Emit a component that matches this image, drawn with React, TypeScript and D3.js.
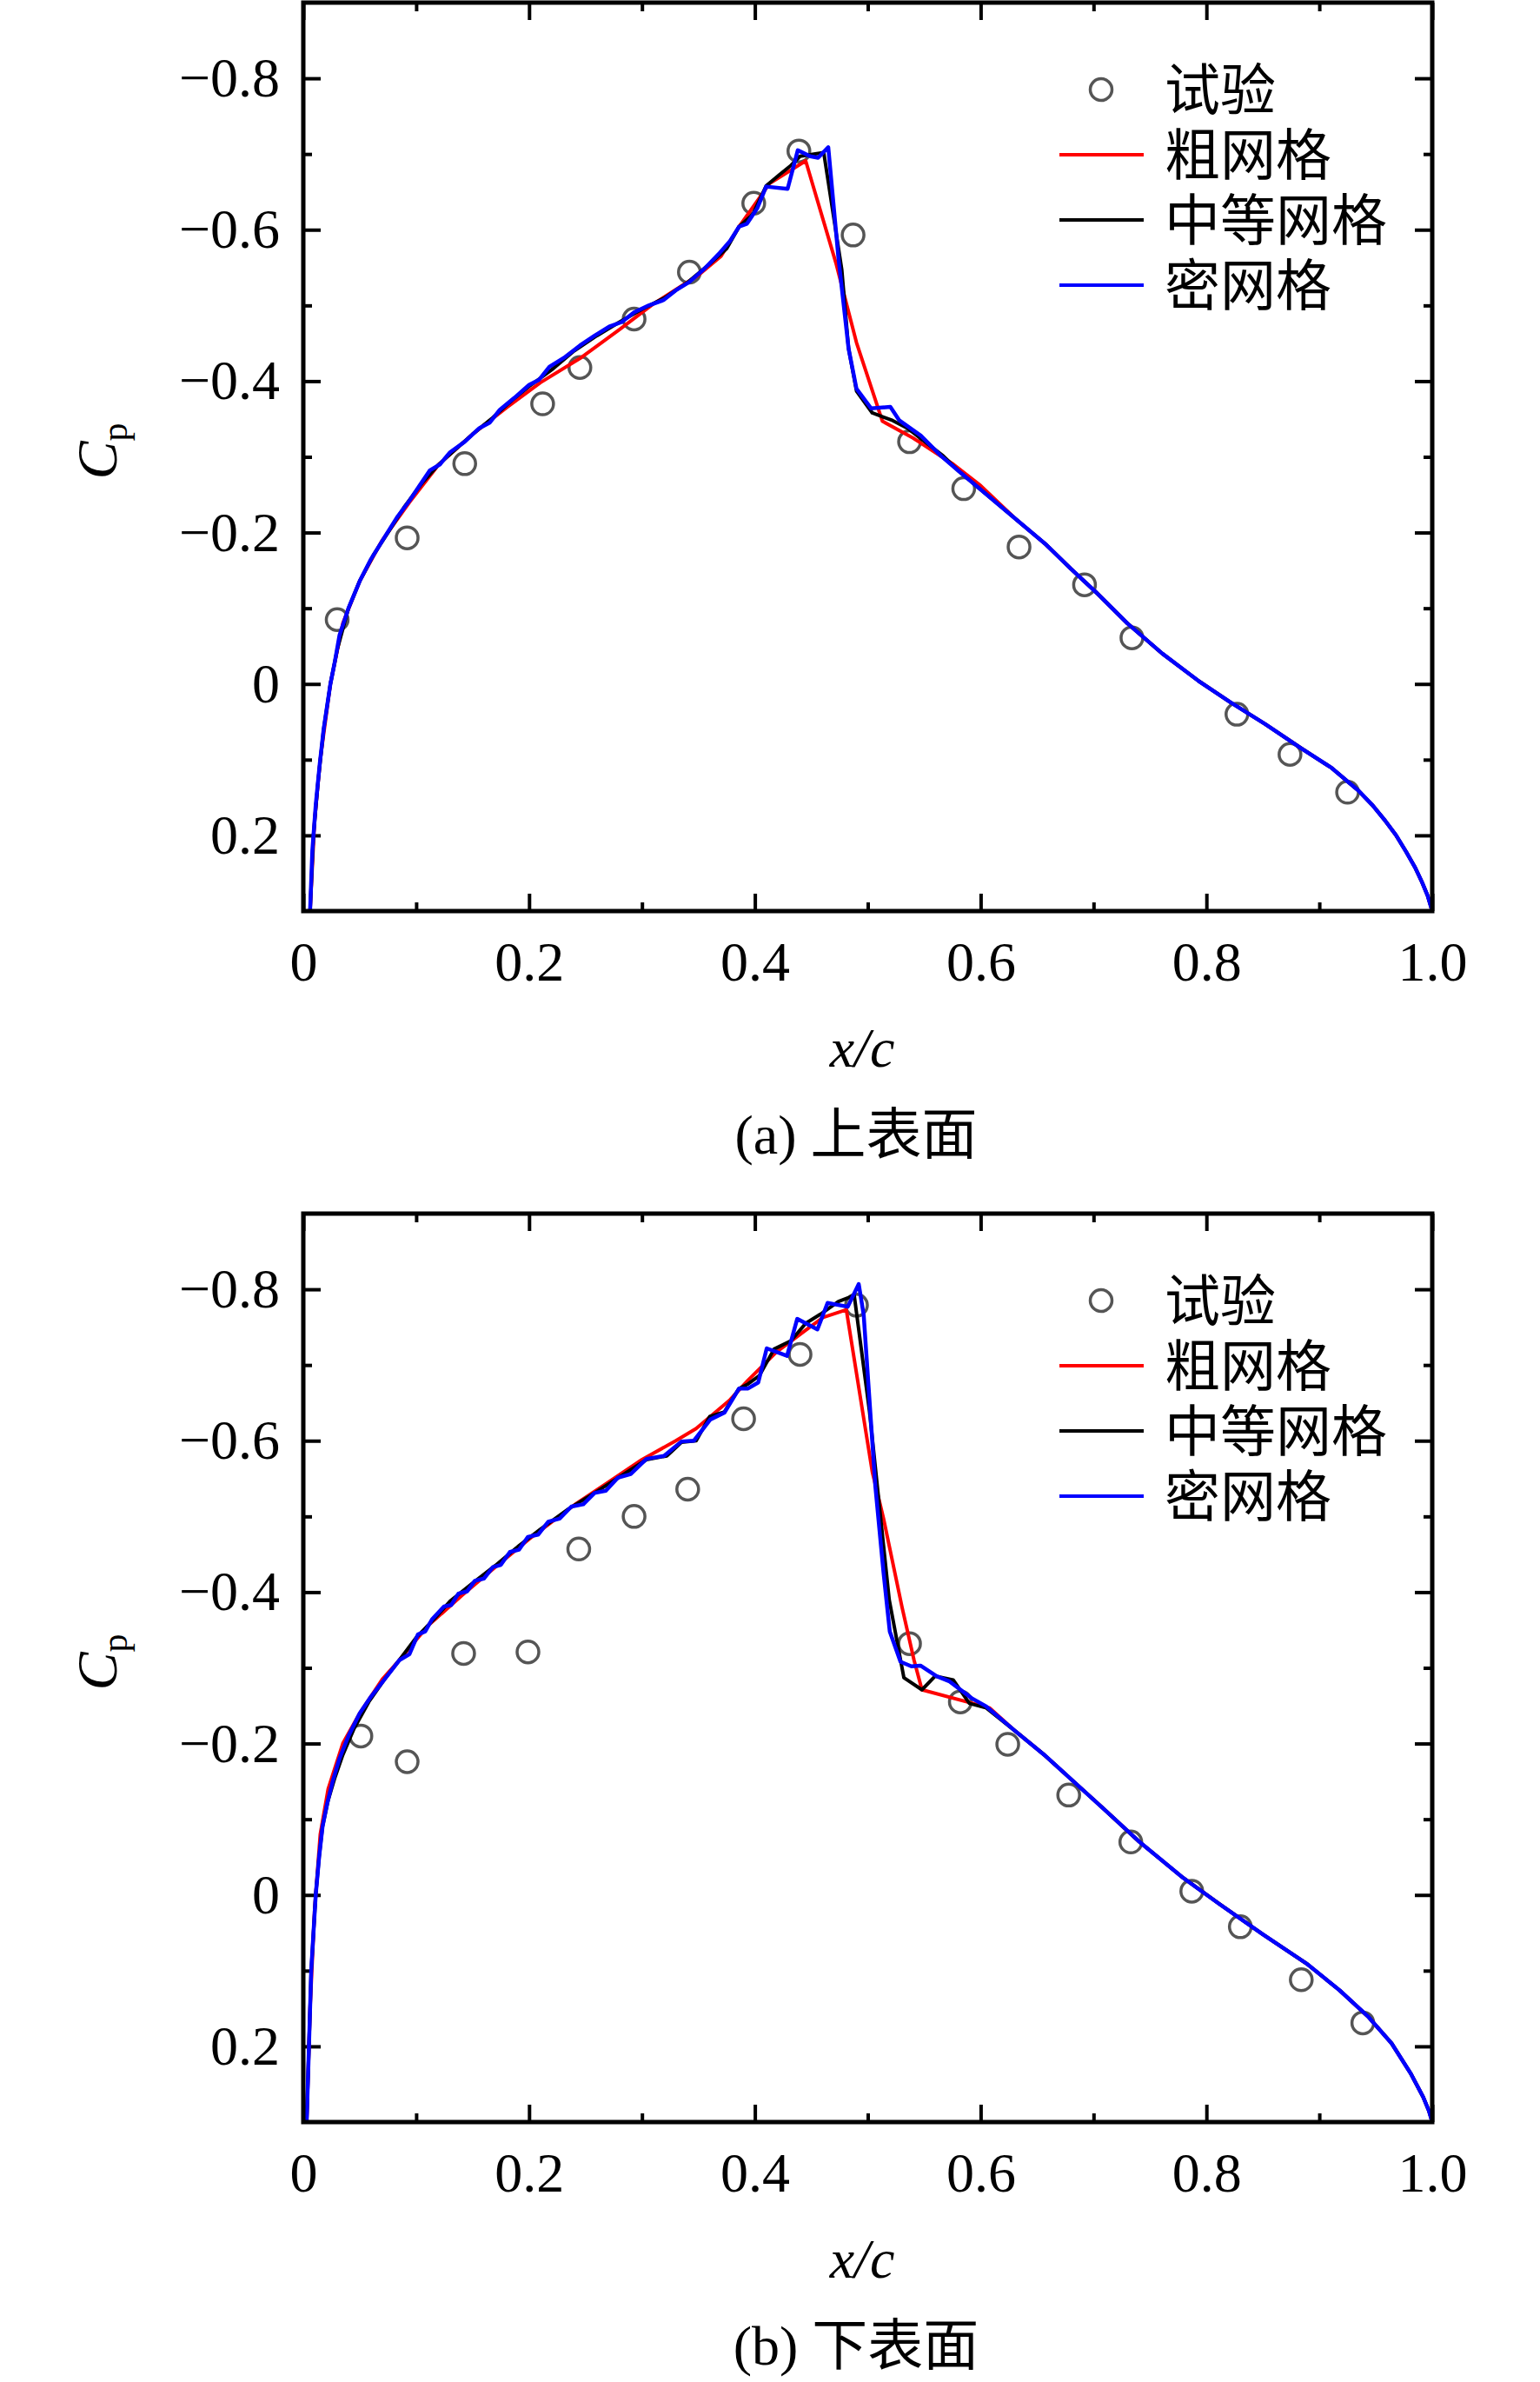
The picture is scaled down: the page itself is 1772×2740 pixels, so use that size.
import React, { useRef, useEffect } from "react";
import * as d3 from "d3";

type Pt = [number, number];

// ---- (a) upper surface ----
const upperTest: Pt[] = [
	[0.03, -0.085], [0.092, -0.193], [0.143, -0.291], [0.212, -0.37], [0.245, -0.418],
	[0.293, -0.482], [0.342, -0.544], [0.399, -0.635], [0.439, -0.704], [0.487, -0.593],
	[0.537, -0.32], [0.585, -0.258], [0.634, -0.181], [0.692, -0.131], [0.734, -0.061],
	[0.827, 0.04], [0.874, 0.093], [0.925, 0.143],
];

// all three grids coincide aft of x/c ~ 0.6
const upperTail: Pt[] = [
	[0.631, -0.218], [0.658, -0.184], [0.68, -0.152], [0.703, -0.12], [0.73, -0.08],
	[0.761, -0.04], [0.793, -0.004], [0.821, 0.024], [0.852, 0.053], [0.884, 0.085],
	[0.911, 0.111], [0.934, 0.14], [0.947, 0.16], [0.958, 0.18], [0.968, 0.2], [0.977, 0.222],
	[0.985, 0.243], [0.991, 0.262], [0.996, 0.28], [1.0, 0.3],
];

const upperCoarse: Pt[] = [
	[0.006, 0.3], [0.01, 0.18], [0.015, 0.1], [0.024, 0.0], [0.035, -0.08], [0.05, -0.136],
	[0.07, -0.19], [0.094, -0.24], [0.12, -0.29], [0.15, -0.33], [0.18, -0.365], [0.21, -0.398],
	[0.245, -0.43], [0.28, -0.468], [0.31, -0.502], [0.35, -0.54], [0.37, -0.565], [0.386, -0.604],
	[0.413, -0.661], [0.445, -0.691], [0.472, -0.555], [0.49, -0.451], [0.513, -0.347],
	[0.54, -0.325], [0.576, -0.29], [0.6, -0.262],
];

const upperMedium: Pt[] = [
	[0.006, 0.3], [0.009, 0.2], [0.013, 0.13], [0.018, 0.06], [0.024, 0.0], [0.03, -0.045],
	[0.04, -0.1], [0.05, -0.136], [0.062, -0.17], [0.075, -0.2], [0.09, -0.235], [0.105, -0.265],
	[0.12, -0.29], [0.135, -0.31], [0.15, -0.33], [0.168, -0.352], [0.185, -0.375], [0.2, -0.393],
	[0.22, -0.415], [0.24, -0.44], [0.26, -0.46], [0.28, -0.478], [0.3, -0.495], [0.32, -0.51],
	[0.34, -0.53], [0.36, -0.555], [0.375, -0.575], [0.386, -0.604], [0.398, -0.62], [0.41, -0.658],
	[0.422, -0.673], [0.432, -0.685], [0.44, -0.697], [0.461, -0.702], [0.477, -0.547],
	[0.483, -0.443], [0.49, -0.387], [0.504, -0.358], [0.522, -0.348], [0.535, -0.338],
	[0.567, -0.301], [0.58, -0.282], [0.599, -0.258],
];

const upperFine: Pt[] = [
	[0.006, 0.3], [0.008, 0.22], [0.011, 0.16], [0.0146, 0.105], [0.018, 0.06], [0.021, 0.03],
	[0.024, 0.0], [0.028, -0.03], [0.032, -0.064], [0.04, -0.1], [0.05, -0.136], [0.06, -0.165],
	[0.072, -0.194], [0.083, -0.22], [0.094, -0.242], [0.103, -0.262], [0.112, -0.282],
	[0.121, -0.29], [0.13, -0.306], [0.143, -0.32], [0.156, -0.338], [0.165, -0.345],
	[0.174, -0.362], [0.187, -0.378], [0.2, -0.395], [0.209, -0.402], [0.218, -0.419],
	[0.232, -0.432], [0.245, -0.447], [0.258, -0.46], [0.271, -0.472], [0.282, -0.478],
	[0.293, -0.491], [0.306, -0.5], [0.319, -0.507], [0.33, -0.52], [0.342, -0.531],
	[0.355, -0.548], [0.368, -0.568], [0.378, -0.585], [0.386, -0.604], [0.393, -0.608],
	[0.402, -0.628], [0.41, -0.657], [0.429, -0.654], [0.438, -0.705], [0.449, -0.697],
	[0.456, -0.695], [0.465, -0.709], [0.474, -0.563], [0.483, -0.443], [0.49, -0.39],
	[0.503, -0.364], [0.52, -0.366], [0.528, -0.348], [0.547, -0.328], [0.565, -0.301],
	[0.58, -0.282], [0.599, -0.258],
];

// ---- (b) lower surface ----
const lowerTest: Pt[] = [
	[0.051, -0.21], [0.092, -0.176], [0.142, -0.319], [0.199, -0.321], [0.244, -0.457],
	[0.293, -0.5], [0.3405, -0.536], [0.39, -0.629], [0.44, -0.714], [0.49, -0.779],
	[0.537, -0.332], [0.582, -0.255], [0.624, -0.199], [0.678, -0.132], [0.733, -0.07],
	[0.787, -0.005], [0.83, 0.042], [0.884, 0.112], [0.9385, 0.169],
];

const lowerTail: Pt[] = [
	[0.631, -0.216], [0.6564, -0.185], [0.6822, -0.15], [0.708, -0.115], [0.74, -0.071],
	[0.779, -0.023], [0.8115, 0.012], [0.85, 0.052], [0.889, 0.091], [0.918, 0.126],
	[0.9434, 0.161], [0.964, 0.196], [0.981, 0.236], [0.992, 0.267], [0.997, 0.285], [1.0, 0.3],
];

const lowerCoarse: Pt[] = [
	[0.003, 0.3], [0.006, 0.15], [0.01, 0.02], [0.015, -0.08], [0.022, -0.14], [0.035, -0.2],
	[0.05, -0.24], [0.07, -0.285], [0.085, -0.31], [0.11, -0.355], [0.14, -0.395], [0.17, -0.433],
	[0.2, -0.47], [0.24, -0.515], [0.27, -0.545], [0.3, -0.575], [0.33, -0.6], [0.348, -0.616],
	[0.378, -0.654], [0.394, -0.68], [0.419, -0.717], [0.445, -0.746], [0.4605, -0.763],
	[0.481, -0.773], [0.504, -0.559], [0.514, -0.497], [0.5305, -0.379], [0.541, -0.31],
	[0.548, -0.271], [0.608, -0.247],
];

const lowerMedium: Pt[] = [
	[0.003, 0.3], [0.005, 0.2], [0.007, 0.1], [0.009, 0.05], [0.011, 0.0], [0.014, -0.05],
	[0.017, -0.09], [0.022, -0.125], [0.028, -0.155], [0.035, -0.185], [0.045, -0.22],
	[0.058, -0.255], [0.072, -0.285], [0.085, -0.31], [0.1, -0.34], [0.115, -0.363],
	[0.13, -0.388], [0.15, -0.412], [0.17, -0.435], [0.19, -0.46], [0.21, -0.483], [0.235, -0.51],
	[0.26, -0.533], [0.28, -0.552], [0.304, -0.575], [0.322, -0.58], [0.335, -0.598],
	[0.348, -0.6], [0.36, -0.632], [0.373, -0.638], [0.386, -0.669], [0.394, -0.675],
	[0.404, -0.686], [0.417, -0.721], [0.432, -0.732], [0.445, -0.755], [0.458, -0.767],
	[0.474, -0.784], [0.488, -0.792], [0.5015, -0.639], [0.519, -0.39], [0.532, -0.287],
	[0.548, -0.271], [0.5596, -0.289], [0.5757, -0.284], [0.59, -0.253], [0.605, -0.247],
];

const lowerFine: Pt[] = [
	[0.003, 0.3], [0.005, 0.2], [0.007, 0.1], [0.009, 0.05], [0.011, 0.0], [0.014, -0.05],
	[0.017, -0.09], [0.021, -0.12], [0.026, -0.15], [0.032, -0.18], [0.04, -0.21], [0.05, -0.24],
	[0.06, -0.262], [0.072, -0.285], [0.085, -0.31], [0.094, -0.318], [0.1015, -0.344],
	[0.108, -0.348], [0.114, -0.364], [0.1246, -0.381], [0.131, -0.383], [0.1374, -0.398],
	[0.145, -0.401], [0.152, -0.415], [0.16, -0.418], [0.168, -0.433], [0.175, -0.436],
	[0.183, -0.453], [0.191, -0.456], [0.199, -0.473], [0.208, -0.476], [0.217, -0.493],
	[0.227, -0.497], [0.2375, -0.513], [0.248, -0.516], [0.258, -0.531], [0.268, -0.534],
	[0.2785, -0.551], [0.29, -0.556], [0.304, -0.576], [0.3195, -0.58], [0.335, -0.599],
	[0.346, -0.6], [0.3605, -0.628], [0.373, -0.637], [0.386, -0.669], [0.394, -0.669],
	[0.403, -0.677], [0.4105, -0.722], [0.4285, -0.712], [0.4375, -0.761], [0.4554, -0.747],
	[0.4644, -0.782], [0.4823, -0.777], [0.492, -0.807], [0.4964, -0.766], [0.5067, -0.54],
	[0.514, -0.425], [0.5195, -0.348], [0.529, -0.308], [0.5386, -0.302], [0.5467, -0.303],
	[0.561, -0.289], [0.5725, -0.282], [0.592, -0.26], [0.605, -0.249],
];

const legendLabels = ["试验", "粗网格", "中等网格", "密网格"];
const seriesColors = ["#555555", "#ff0000", "#000000", "#0000ff"];
const xMajor = [0, 0.2, 0.4, 0.6, 0.8, 1.0];
const xMinor = [0.1, 0.3, 0.5, 0.7, 0.9];
const yMajor = [-0.8, -0.6, -0.4, -0.2, 0, 0.2];
const yMinor = [-0.7, -0.5, -0.3, -0.1, 0.1];

const W = 1772;
const H = 2740;
const LEFT = 349;
const RIGHT = 1648;
const PANEL_H = 1045;
const SERIF = "'Liberation Serif', 'Times New Roman', 'Noto Sans CJK SC', serif";
const CJK = "'Noto Sans CJK SC', sans-serif";

const fmt = (v: number) => (Math.abs(v) < 1e-9 ? "0" : d3.format(".1f")(v));

function drawPanel(
	svg: d3.Selection<SVGSVGElement, unknown, null, undefined>,
	top: number,
	test: Pt[],
	coarse: Pt[],
	medium: Pt[],
	fine: Pt[],
	tag: string,
	caption: string,
	id: string
) {
	const bottom = top + PANEL_H;
	const x = d3.scaleLinear().domain([0, 1]).range([LEFT, RIGHT]);
	const y = d3.scaleLinear().domain([-0.9, 0.3]).range([top, bottom]);
	const g = svg.append("g");

	g.append("clipPath")
		.attr("id", id)
		.append("rect")
		.attr("x", LEFT)
		.attr("y", top)
		.attr("width", RIGHT - LEFT)
		.attr("height", PANEL_H);

	const styleAxis = (sel: d3.Selection<SVGGElement, unknown, null, undefined>) => {
		sel.select(".domain").remove();
		sel.selectAll("line").attr("stroke-width", 4);
		sel.selectAll("text").attr("font-size", 64).attr("font-family", SERIF).attr("fill", "#000");
	};

	// major + minor ticks, inward on all four sides
	const axes: [d3.Axis<d3.NumberValue>, string][] = [
		[d3.axisLeft(y).tickValues(yMajor).tickSize(-20).tickPadding(27).tickFormat((d) => fmt(+d)), `translate(${LEFT},0)`],
		[d3.axisLeft(y).tickValues(yMinor).tickSize(-10).tickFormat(() => ""), `translate(${LEFT},0)`],
		[d3.axisRight(y).tickValues(yMajor).tickSize(-20).tickFormat(() => ""), `translate(${RIGHT},0)`],
		[d3.axisRight(y).tickValues(yMinor).tickSize(-10).tickFormat(() => ""), `translate(${RIGHT},0)`],
		[d3.axisBottom(x).tickValues(xMajor).tickSize(-20).tickPadding(35).tickFormat((d) => fmt(+d)), `translate(0,${bottom})`],
		[d3.axisBottom(x).tickValues(xMinor).tickSize(-10).tickFormat(() => ""), `translate(0,${bottom})`],
		[d3.axisTop(x).tickValues(xMajor).tickSize(-20).tickFormat(() => ""), `translate(0,${top})`],
		[d3.axisTop(x).tickValues(xMinor).tickSize(-10).tickFormat(() => ""), `translate(0,${top})`],
	];
	axes.forEach(([ax, tr]) => {
		const a = g.append("g").attr("transform", tr).call(ax);
		styleAxis(a);
	});

	// experiment circles
	const plot = g.append("g").attr("clip-path", `url(#${id})`);
	plot.selectAll("circle")
		.data(test)
		.enter()
		.append("circle")
		.attr("cx", (d) => x(d[0]))
		.attr("cy", (d) => y(d[1]))
		.attr("r", 12.5)
		.attr("fill", "none")
		.attr("stroke", seriesColors[0])
		.attr("stroke-width", 3.5);

	const line = d3
		.line<Pt>()
		.x((d) => x(d[0]))
		.y((d) => y(d[1]));

	[coarse, medium, fine].forEach((s, i) => {
		plot.append("path")
			.attr("d", line(s))
			.attr("fill", "none")
			.attr("stroke", seriesColors[i + 1])
			.attr("stroke-width", i === 2 ? 4.5 : 4)
			.attr("stroke-linejoin", "round");
	});

	// frame
	g.append("rect")
		.attr("x", LEFT)
		.attr("y", top)
		.attr("width", RIGHT - LEFT)
		.attr("height", PANEL_H)
		.attr("fill", "none")
		.attr("stroke", "#000")
		.attr("stroke-width", 5);

	// legend
	const leg = g.append("g");
	legendLabels.forEach((lab, i) => {
		const ry = top + 100 + i * 75;
		if (i === 0) {
			leg.append("circle")
				.attr("cx", 1267)
				.attr("cy", ry)
				.attr("r", 12.5)
				.attr("fill", "none")
				.attr("stroke", seriesColors[0])
				.attr("stroke-width", 3.5);
		} else {
			leg.append("line")
				.attr("x1", 1219)
				.attr("x2", 1316)
				.attr("y1", ry)
				.attr("y2", ry)
				.attr("stroke", seriesColors[i])
				.attr("stroke-width", 4);
		}
		leg.append("text")
			.attr("x", 1340)
			.attr("y", ry + 23)
			.attr("font-family", CJK)
			.attr("font-size", 64)
			.text(lab);
	});

	// y label C_p
	const yl = g.append("text")
		.attr("transform", `translate(134,${top + 516}) rotate(-90)`)
		.attr("text-anchor", "middle")
		.attr("font-family", SERIF)
		.attr("font-size", 66);
	yl.append("tspan").attr("font-style", "italic").text("C");
	yl.append("tspan").attr("font-size", 42).attr("dy", 12).text("p");

	// x label
	g.append("text")
		.attr("x", 992)
		.attr("y", bottom + 179)
		.attr("text-anchor", "middle")
		.attr("font-family", SERIF)
		.attr("font-size", 64)
		.attr("font-style", "italic")
		.text("x/c");

	// caption
	const cap = g.append("text")
		.attr("x", 985)
		.attr("y", bottom + 279)
		.attr("text-anchor", "middle")
		.attr("font-family", SERIF)
		.attr("font-size", 64);
	cap.append("tspan").text(tag + " ");
	cap.append("tspan").attr("font-family", CJK).attr("font-size", 64).text(caption);
}

export default function App() {
	const svgRef = useRef<SVGSVGElement | null>(null);

	useEffect(() => {
		const svg = d3.select(svgRef.current as SVGSVGElement);
		svg.selectAll("*").remove();
		drawPanel(svg, 3, upperTest, [...upperCoarse, ...upperTail], [...upperMedium, ...upperTail], [...upperFine, ...upperTail], "(a)", "上表面", "clipA");
		drawPanel(svg, 1396, lowerTest, [...lowerCoarse, ...lowerTail], [...lowerMedium, ...lowerTail], [...lowerFine, ...lowerTail], "(b)", "下表面", "clipB");
	}, []);

	return (
		<svg
			ref={svgRef}
			width={W}
			height={H}
			style={{ position: "absolute", left: 0, top: 0, background: "#fff", display: "block" }}
		></svg>
	);
}
